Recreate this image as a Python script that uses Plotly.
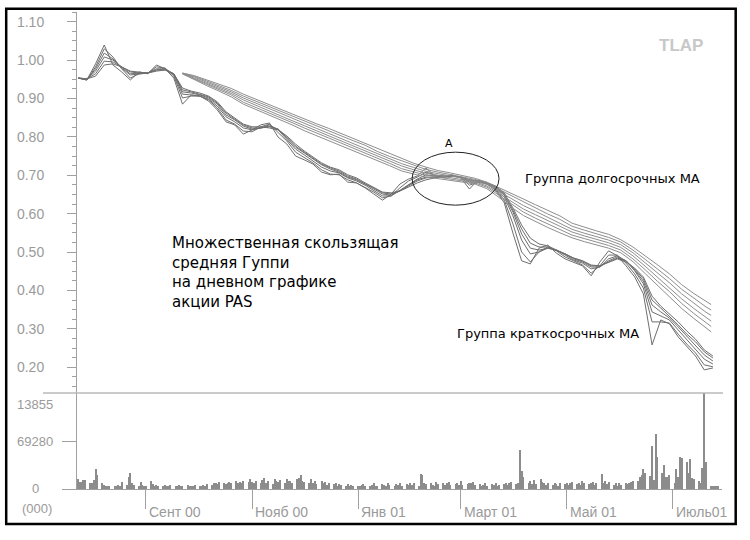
import pandas as pd
import plotly.graph_objects as go

W, H = 750, 540

# ---------------- data ----------------
short_dates = pd.date_range("2000-07-24", periods=74, freq="5D")

ema3 = [.953, .948, .990, 1.039, .987, .969, .948, .969, .964, .987,
        .977, .953, .885, .909, .906, .893, .870, .839, .831, .807,
        .818, .831, .836, .799, .781, .750, .740, .729, .708, .701,
        .703, .682, .680, .667, .651, .635, .651, .677, .690, .698,
        .719, .698, .695, .701, .693, .664, .688, .677, .661, .628,
        .549, .477, .469, .510, .518, .497, .482, .474, .464, .438,
        .474, .503, .490, .464, .435, .391, .258, .323, .313, .279,
        .253, .229, .193, .198]
ema5 = [.953, .948, .982, 1.029, 1.008, .977, .953, .964, .966, .982,
        .979, .958, .901, .906, .906, .896, .875, .844, .833, .815,
        .813, .826, .833, .810, .789, .760, .745, .732, .714, .703,
        .701, .688, .680, .669, .656, .641, .646, .667, .685, .695,
        .708, .701, .698, .698, .695, .674, .682, .677, .664, .635,
        .573, .500, .474, .500, .513, .503, .487, .477, .466, .445,
        .464, .492, .492, .471, .443, .406, .318, .318, .315, .286,
        .260, .237, .206, .201]
ema8 = [.953, .948, .977, 1.018, 1.003, .979, .961, .964, .966, .977,
        .977, .961, .911, .909, .906, .898, .880, .852, .839, .823,
        .818, .823, .831, .818, .794, .768, .753, .737, .721, .711,
        .706, .693, .685, .674, .661, .646, .646, .661, .677, .690,
        .701, .698, .698, .698, .695, .682, .682, .680, .667, .643,
        .594, .531, .495, .500, .510, .505, .492, .479, .471, .456,
        .461, .482, .490, .477, .451, .417, .344, .333, .323, .297,
        .271, .247, .221, .208]
ema10 = [.953, .951, .971, 1.008, 1.000, .982, .964, .966, .966, .974,
         .977, .964, .917, .914, .909, .901, .885, .857, .844, .828,
         .820, .823, .828, .820, .797, .773, .758, .742, .727, .716,
         .708, .695, .688, .677, .664, .651, .648, .659, .674, .688,
         .695, .695, .695, .698, .695, .685, .685, .680, .669, .648,
         .604, .547, .510, .505, .510, .505, .495, .482, .474, .461,
         .461, .477, .487, .477, .453, .424, .362, .344, .328, .305,
         .281, .258, .232, .216]
ema12 = [.953, .951, .964, .997, .995, .982, .969, .966, .966, .974,
         .974, .964, .922, .917, .911, .904, .888, .862, .846, .831,
         .823, .823, .826, .820, .799, .776, .760, .745, .729, .719,
         .711, .698, .690, .677, .667, .654, .651, .659, .672, .685,
         .693, .695, .695, .698, .695, .688, .685, .680, .669, .651,
         .609, .560, .523, .513, .513, .505, .495, .484, .477, .464,
         .464, .474, .484, .477, .456, .430, .375, .354, .333, .310,
         .286, .266, .240, .224]
ema15 = [.953, .951, .958, .987, .990, .982, .971, .969, .966, .971,
         .974, .964, .927, .919, .914, .906, .891, .865, .849, .833,
         .826, .826, .823, .818, .802, .781, .763, .747, .732, .721,
         .714, .701, .693, .680, .669, .656, .654, .659, .669, .680,
         .688, .693, .695, .698, .695, .688, .685, .680, .672, .654,
         .615, .570, .536, .521, .516, .505, .495, .484, .477, .466,
         .464, .474, .482, .474, .458, .435, .385, .359, .339, .318,
         .294, .273, .245, .229]

long_dates = list(pd.date_range("2000-09-22", periods=44, freq="7D")) + [pd.Timestamp("2001-07-23")]

ema30 = [.964, .948, .933, .919, .904, .885, .872, .859, .846, .831,
         .816, .803, .790, .778, .765, .753, .738, .725, .711, .703,
         .695, .691, .687, .682, .677, .665, .642, .617, .595, .579,
         .564, .550, .537, .527, .519, .510, .498, .475, .444, .414,
         .385, .353, .327, .302, .292]
ema35 = [.964, .950, .936, .923, .909, .890, .877, .865, .851, .837,
         .823, .809, .797, .784, .771, .759, .744, .731, .717, .709,
         .700, .695, .690, .686, .680, .669, .647, .624, .604, .588,
         .573, .558, .544, .535, .526, .517, .505, .482, .454, .424,
         .397, .366, .340, .316, .306]
ema40 = [.965, .953, .939, .926, .913, .896, .882, .870, .856, .842,
         .829, .816, .803, .790, .778, .765, .750, .737, .724, .714,
         .705, .699, .694, .689, .683, .672, .652, .631, .612, .597,
         .582, .567, .552, .542, .533, .524, .512, .490, .463, .435,
         .408, .378, .353, .330, .320]
ema45 = [.965, .955, .942, .930, .917, .901, .887, .875, .862, .848,
         .835, .822, .809, .796, .784, .771, .756, .743, .730, .720,
         .710, .704, .698, .692, .686, .676, .658, .639, .621, .606,
         .591, .576, .559, .549, .541, .531, .519, .498, .472, .446,
         .420, .391, .366, .343, .335]
ema50 = [.966, .957, .945, .933, .921, .906, .893, .880, .867, .854,
         .841, .828, .815, .803, .790, .778, .762, .749, .737, .725,
         .715, .708, .702, .696, .689, .679, .663, .646, .629, .614,
         .599, .585, .567, .557, .548, .538, .526, .505, .481, .456,
         .431, .403, .379, .357, .349]
ema60 = [.966, .959, .948, .937, .926, .911, .898, .885, .872, .860,
         .847, .834, .822, .809, .796, .784, .769, .756, .743, .731,
         .721, .712, .706, .699, .692, .682, .668, .653, .638, .623,
         .608, .594, .575, .564, .555, .546, .532, .513, .491, .467,
         .443, .415, .392, .371, .363]

# daily volume, millions of shares (axis shows thousands)
volume_mln = [
    14, 10, 10, 13, 13, 8,
    9, 13, 29, 20, 8, 6, 4, 5, 4, 5, 4, 6, 5, 10, 6, 17, 23, 8, 6, 4, 10, 6, 5,
    5, 12, 7, 5, 6, 4, 5, 6, 4, 5, 6, 5, 4, 6, 5, 4, 6, 5, 5, 4, 6,
    5, 4, 6, 5, 7, 6, 8, 9, 7, 10, 8, 7, 9, 10, 8, 11, 9, 10, 8, 12, 10, 14,
    10, 9, 12, 8, 13, 16, 9, 11, 7, 14, 12, 10, 13, 9, 15, 11, 12, 9, 14, 16, 20, 12,
    10, 8, 14, 9, 12, 7, 11, 8, 10, 6, 9, 7, 8, 5, 7, 6, 4, 7, 5, 6, 4,
    5, 4, 6, 7, 4, 5, 6, 8, 5, 4, 7, 6, 5, 9, 6, 5, 7, 6, 8, 5, 7, 6, 9,
    6, 8, 5, 21, 20, 9, 7, 8, 6, 5, 10, 7, 9, 6, 8, 10, 6, 7, 9, 6,
    12, 6, 7, 9, 8, 10, 6, 7, 5, 6, 8, 5, 7, 6, 8, 5, 6, 7, 9, 6, 8, 10,
    7, 9, 57, 26, 17, 9, 12, 7, 13, 7, 14, 10, 9, 6, 8, 6, 9, 7, 5, 8, 7,
    9, 6, 8, 10, 7, 9, 6, 11, 8, 7, 9, 10, 6, 8, 22, 9, 12, 7, 10, 6, 8, 5, 9,
    6, 8, 7, 9, 10, 12, 11, 17, 20, 29, 23, 19, 62, 13, 79, 46, 23, 34, 17, 17, 20,
    9, 29, 17, 46, 45, 39, 23, 43, 16, 14, 12, 9, 30, 150, 39, 4, 4, 4, 4, 4,
]
vol_dates = pd.bdate_range("2000-07-24", periods=len(volume_mln))

price_ticks = [0.2, 0.3, 0.4, 0.5, 0.6, 0.7, 0.8, 0.9, 1.0, 1.1]
month_ticks = ["2000-09-01", "2000-11-01", "2001-01-01", "2001-03-01", "2001-05-01", "2001-07-01"]
month_labels = ["Сент 00", "Нояб 00", "Янв 01", "Март 01", "Май 01", "Июль01"]
vol_tick_vals = [0, 69.28]
vol_labels = ["13855", "69280", "0", "(000)"]

# ---------------- figure ----------------
def px(x):
    return x / W


def py(y):
    return 1 - y / H


fig = go.Figure()
for ys in [ema3, ema5, ema8, ema10, ema12, ema15]:
    fig.add_trace(go.Scatter(x=short_dates, y=ys, mode="lines",
                             line=dict(color="#6e6e6e", width=1),
                             hoverinfo="skip", showlegend=False))
for ys in [ema30, ema35, ema40, ema45, ema50, ema60]:
    fig.add_trace(go.Scatter(x=long_dates, y=ys, mode="lines",
                             line=dict(color="#8e8e8e", width=1),
                             hoverinfo="skip", showlegend=False))
fig.add_trace(go.Bar(x=vol_dates, y=volume_mln, yaxis="y2",
                     width=0.6 * 86400000, marker=dict(color="#8c8c8c", line=dict(width=0)),
                     hoverinfo="skip", showlegend=False))

gray = "#a0a0a0"
fig.update_layout(
    width=W, height=H, margin=dict(l=0, r=0, t=0, b=0),
    paper_bgcolor="white", plot_bgcolor="white",
    bargap=0,
    xaxis=dict(domain=[px(77), px(722)], anchor="y2", type="date",
               range=["2000-07-23 08:00", "2001-07-29 05:00"],
               showgrid=False, zeroline=False, showline=True, linecolor=gray, linewidth=1,
               ticks="outside", ticklen=19, tickcolor=gray, tickwidth=1,
               tickvals=month_ticks, showticklabels=False),
    yaxis=dict(domain=[py(393), py(12)], range=[0.1328, 1.125], anchor="x",
               showgrid=False, zeroline=False, showline=True, linecolor=gray, linewidth=1,
               ticks="outside", ticklen=9, tickcolor=gray,
               tickvals=price_ticks, ticktext=[f"{v:.2f}" for v in price_ticks],
               tickfont=dict(family="Liberation Sans", size=14, color="#9a9a9a"),
               ticklabelstandoff=20,
               minor=dict(dtick=0.025, tick0=0, ticks="outside", ticklen=4, tickcolor=gray)),
    yaxis2=dict(domain=[py(489), py(393)], range=[0, 138.56], anchor="x",
                showgrid=False, zeroline=False, showline=True, linecolor=gray, linewidth=1,
                ticks="outside", ticklen=14, tickcolor=gray,
                tickvals=vol_tick_vals, showticklabels=False),
)

shapes = [
    dict(type="line", xref="paper", yref="paper", x0=px(43), x1=px(723), y0=py(393), y1=py(393),
         line=dict(color="#b8b8b8", width=1.5)),
    dict(type="circle", xref="x", yref="y", x0="2001-02-01", x1="2001-03-23", y0=0.622, y1=0.760,
         line=dict(color="#222222", width=1)),
    dict(type="rect", xref="paper", yref="paper", x0=px(6.2), x1=px(735.7), y0=py(524), y1=py(8.7),
         line=dict(color="black", width=2.5)),
]
fig.update_layout(shapes=shapes)

ann = []
ann.append(dict(xref="paper", yref="paper", x=px(170), y=py(232), xanchor="left", yanchor="top",
                align="left", showarrow=False,
                text="Множественная скользящая<br>средняя Гуппи<br>на дневном графике<br>акции PAS",
                font=dict(family="DejaVu Sans", size=15, color="black")))
ann.append(dict(xref="paper", yref="paper", x=px(523), y=py(178), xanchor="left", yanchor="middle",
                showarrow=False, text="Группа долгосрочных МА",
                font=dict(family="DejaVu Sans", size=13, color="black")))
ann.append(dict(xref="paper", yref="paper", x=px(455), y=py(333), xanchor="left", yanchor="middle",
                showarrow=False, text="Группа краткосрочных МА",
                font=dict(family="DejaVu Sans", size=13, color="black")))
ann.append(dict(xref="paper", yref="paper", x=px(449), y=py(143), xanchor="center", yanchor="middle",
                showarrow=False, text="A",
                font=dict(family="DejaVu Sans", size=11, color="black")))
ann.append(dict(xref="paper", yref="paper", x=px(681), y=py(45), xanchor="center", yanchor="middle",
                showarrow=False, text="<b>TLAP</b>",
                font=dict(family="Liberation Sans", size=17, color="#c8c8c8")))
for lab, yy, xx in zip(vol_labels, [404, 441, 488, 508], [35, 35, 35, 37]):
    ann.append(dict(xref="paper", yref="paper", x=px(xx), y=py(yy), xanchor="center", yanchor="middle",
                    showarrow=False, text=lab,
                    font=dict(family="Liberation Sans", size=13, color="#9a9a9a")))
for d, lab in zip(month_ticks, month_labels):
    ann.append(dict(xref="x", yref="paper", x=d, y=py(511.5), xanchor="left", yanchor="middle",
                    xshift=1, showarrow=False, text=lab,
                    font=dict(family="Liberation Sans", size=14, color="#9a9a9a")))
fig.update_layout(annotations=ann)

fig.write_html("out.html")
